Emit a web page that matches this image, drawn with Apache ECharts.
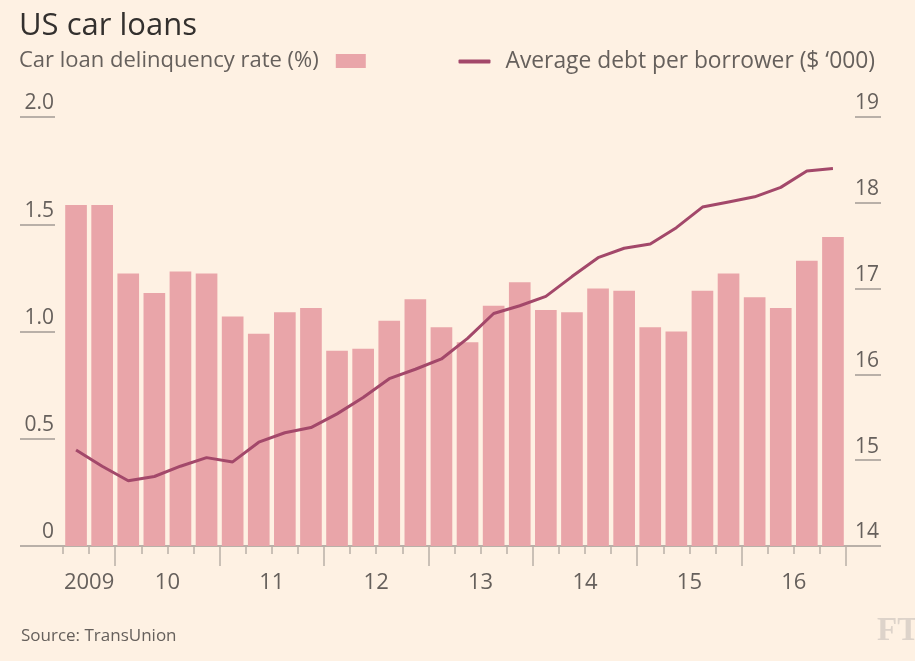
<!DOCTYPE html>
<html>
<head>
<meta charset="utf-8">
<script src="https://cdn.jsdelivr.net/npm/echarts@6/dist/echarts.min.js"></script>
<style>
  html, body {margin: 0; padding: 0; background: #fef1e3;}
  #chart {width: 915px; height: 661px;}
</style>
</head>
<body>
<div id="chart"></div>
<script>
// quarters, Q3 2009 .. Q4 2016
const quarters = [
  '2009 Q3', '2009 Q4',
  '2010 Q1', '2010 Q2', '2010 Q3', '2010 Q4',
  '2011 Q1', '2011 Q2', '2011 Q3', '2011 Q4',
  '2012 Q1', '2012 Q2', '2012 Q3', '2012 Q4',
  '2013 Q1', '2013 Q2', '2013 Q3', '2013 Q4',
  '2014 Q1', '2014 Q2', '2014 Q3', '2014 Q4',
  '2015 Q1', '2015 Q2', '2015 Q3', '2015 Q4',
  '2016 Q1', '2016 Q2', '2016 Q3', '2016 Q4'
];
const delinquency = [
  1.59, 1.59, 1.27, 1.18, 1.28, 1.27, 1.07, 0.99, 1.09, 1.11,
  0.91, 0.92, 1.05, 1.15, 1.02, 0.95, 1.12, 1.23, 1.10, 1.09,
  1.20, 1.19, 1.02, 1.00, 1.19, 1.27, 1.16, 1.11, 1.33, 1.44
];
const avgDebt = [
  15.12, 14.93, 14.76, 14.81, 14.93, 15.03, 14.98, 15.21, 15.32, 15.38,
  15.54, 15.73, 15.95, 16.06, 16.18, 16.42, 16.71, 16.80, 16.91, 17.14,
  17.36, 17.47, 17.52, 17.71, 17.95, 18.01, 18.07, 18.18, 18.37, 18.40
];
const years = ['2009', '2010', '2011', '2012', '2013', '2014', '2015', '2016'];
const yearLabels = ['2009', '10', '11', '12', '13', '14', '15', '16'];
const leftTicks = [0, 0.5, 1.0, 1.5, 2.0];
const rightTicks = [14, 15, 16, 17, 18, 19];

const barName = 'Car loan delinquency rate (%)';
const lineName = 'Average debt per borrower ($ \u2018000)';

const FONT = '"Open Sans", sans-serif';
const GREY = '#66605c';
const RULE = '#b9b0a8';

// band boundaries (one more than quarters), used for year ticks and labels
const boundaries = [];
for (let i = 0; i <= quarters.length; i++) boundaries.push('b' + i);

const yearTickIdx = {};
const yearLabelAt = {};
years.forEach((y, n) => {
  const idx = quarters.map((q, i) => q.indexOf(y) === 0 ? i : -1).filter(i => i >= 0);
  const first = idx[0], last = idx[idx.length - 1] + 1;
  if (n > 0) yearTickIdx[first] = true;
  yearTickIdx[last] = true;
  yearLabelAt[(first + last) / 2] = yearLabels[n];
});
yearTickIdx[quarters.length] = true;

const chart = echarts.init(document.getElementById('chart'));

const option = {
  backgroundColor: '#fef1e3',
  animation: false,
  textStyle: {fontFamily: FONT},
  title: [
    {
      text: 'US car loans',
      left: 14, top: 6,
      textStyle: {fontFamily: FONT, fontSize: 31, fontWeight: 'normal', color: '#33302e'}
    },
    {
      text: 'Source: TransUnion',
      left: 16, top: 623,
      textStyle: {fontFamily: FONT, fontSize: 17, fontWeight: 'normal', color: GREY}
    }
  ],
  legend: [
    {
      data: [barName],
      left: 14, top: 45,
      align: 'right',
      icon: 'rect',
      itemWidth: 30, itemHeight: 14,
      textStyle: {fontFamily: FONT, fontSize: 22, color: GREY, padding: [0, 12, 0, 0]}
    },
    {
      data: [{name: lineName, icon: 'roundRect'}],
      right: 35, top: 45,
      align: 'left',
      itemWidth: 32, itemHeight: 4,
      textStyle: {fontFamily: FONT, fontSize: 22.8, color: GREY, padding: [0, 0, 0, 10]}
    }
  ],
  grid: {left: 63, right: 69, top: 117, bottom: 115, containLabel: false},
  xAxis: [
    {
      type: 'category',
      data: quarters,
      boundaryGap: true,
      position: 'bottom',
      axisLine: {show: true, lineStyle: {color: RULE, width: 2}},
      axisTick: {show: true, interval: 0, length: 8, lineStyle: {color: RULE, width: 1.5}},
      axisLabel: {show: false},
      splitLine: {show: false}
    },
    {
      type: 'category',
      data: boundaries,
      boundaryGap: false,
      position: 'bottom',
      axisLine: {show: false},
      axisTick: {
        show: true, length: 20,
        interval: (i) => !!yearTickIdx[i],
        lineStyle: {color: RULE, width: 1.5}
      },
      axisLabel: {
        show: true,
        interval: (i) => yearLabelAt[i] !== undefined,
        formatter: (v, i) => yearLabelAt[i] || '',
        margin: 26,
        fontFamily: FONT, fontSize: 22, color: GREY
      },
      splitLine: {show: false}
    }
  ],
  yAxis: [
    {
      type: 'value',
      position: 'left',
      min: leftTicks[0], max: leftTicks[leftTicks.length - 1], interval: 0.5,
      offset: 8,
      axisLine: {show: false},
      axisTick: {show: true, length: 35, lineStyle: {color: RULE, width: 2}},
      axisLabel: {
        margin: 1,
        align: 'right',
        verticalAlign: 'bottom',
        padding: [0, 0, 3, 0],
        formatter: v => v === 0 ? '0' : v.toFixed(1),
        fontFamily: FONT, fontSize: 21, color: GREY
      },
      splitLine: {show: false}
    },
    {
      type: 'value',
      position: 'right',
      min: rightTicks[0], max: rightTicks[rightTicks.length - 1], interval: 1,
      offset: 9,
      axisLine: {show: false},
      axisTick: {show: true, length: 26, lineStyle: {color: RULE, width: 2}},
      axisLabel: {
        margin: 0,
        align: 'left',
        verticalAlign: 'bottom',
        padding: [0, 0, 3, 0],
        fontFamily: FONT, fontSize: 21, color: GREY
      },
      splitLine: {show: false}
    }
  ],
  series: [
    {
      name: barName,
      type: 'bar',
      xAxisIndex: 0, yAxisIndex: 0,
      data: delinquency,
      barCategoryGap: '17%',
      itemStyle: {color: '#e9a5a9'},
      z: 2
    },
    {
      name: lineName,
      type: 'line',
      xAxisIndex: 0, yAxisIndex: 1,
      data: avgDebt,
      symbol: 'none',
      lineStyle: {color: '#a3486a', width: 3},
      itemStyle: {color: '#a3486a'},
      z: 3
    }
  ]
};

chart.setOption(option);

// baseline stretched under the axis label stubs, and the FT mark
const y0 = chart.convertToPixel({yAxisIndex: 0}, 0);
chart.setOption({
  graphic: [
    {
      type: 'line',
      shape: {x1: 20, y1: y0, x2: 881, y2: y0},
      style: {stroke: RULE, lineWidth: 2},
      z: 1
    },
    {
      type: 'text',
      left: 877, top: 615,
      style: {text: 'FT', font: 'bold 33px "Liberation Serif", serif', fill: '#ddd3ca'}
    }
  ]
});
</script>
</body>
</html>
